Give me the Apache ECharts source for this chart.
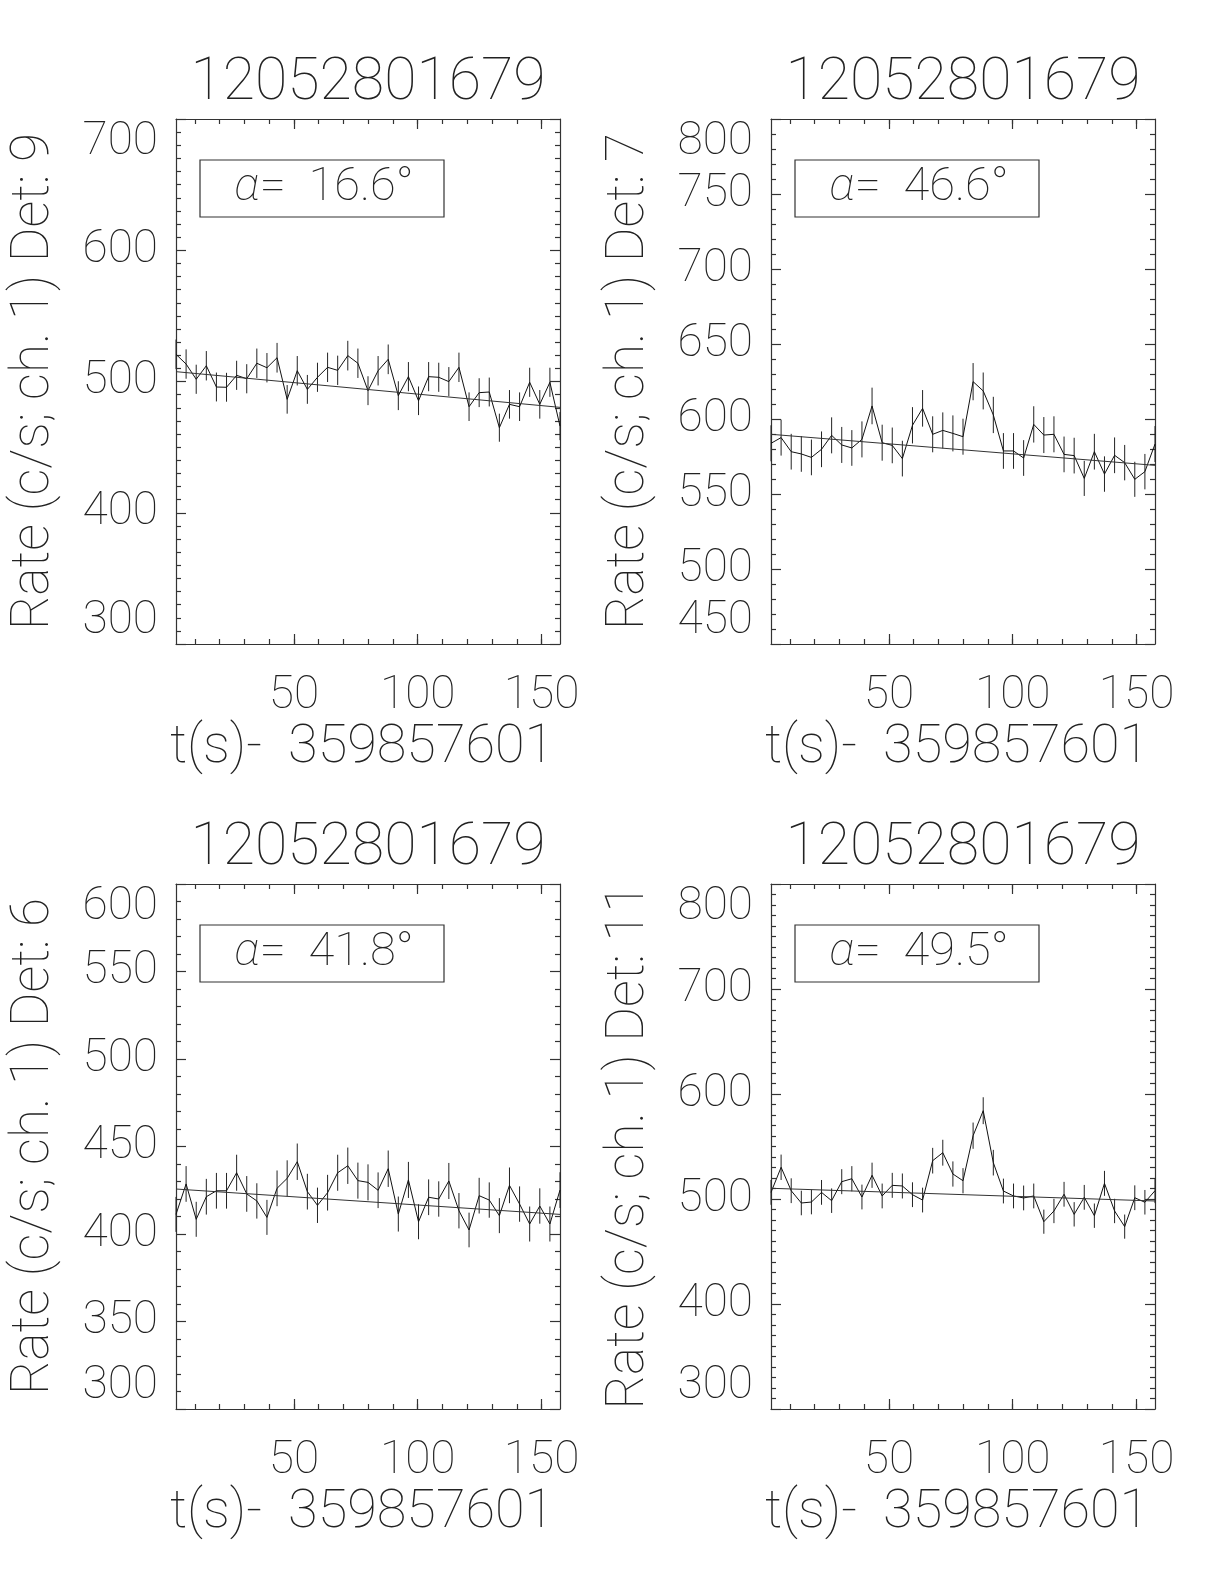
<!DOCTYPE html>
<html>
<head>
<meta charset="utf-8">
<script src="https://cdn.jsdelivr.net/npm/echarts@6/dist/echarts.min.js"></script>
<style>
  html, body { margin: 0; padding: 0; background: #ffffff; }
  #chart { width: 1224px; height: 1584px; }
</style>
</head>
<body>
<div id="chart"></div>
<script>
// ---------------- DATA ----------------
const titleText = '12052801679';
const xAxisName = 't(s)-  359857601';
const xMajorTicks = [50, 100, 150];
const xMinorTicks = [10, 20, 30, 40, 50, 60, 70, 80, 90, 100, 110, 120, 130, 140, 150];

// bin times (s) relative to 359857601
const times = [2.4, 6.48, 10.56, 14.64, 18.72, 22.8, 26.88, 30.96, 35.04, 39.12,
  43.2, 47.28, 51.36, 55.44, 59.52, 63.6, 67.68, 71.76, 75.84, 79.92,
  84.0, 88.08, 92.16, 96.24, 100.32, 104.4, 108.48, 112.56, 116.64, 120.72,
  124.8, 128.88, 132.96, 137.04, 141.12, 145.2, 149.28, 153.36, 157.44];

// Det 9
const rateDet9 = [520.7, 513.3, 501.7, 512.0, 495.8, 495.6, 504.7, 502.1, 513.9, 510.5,
  518.1, 486.4, 508.2, 494.0, 503.2, 510.8, 508.5, 519.7, 513.9, 493.0,
  508.2, 516.9, 489.2, 503.7, 485.3, 503.7, 503.2, 499.9, 510.8, 480.8,
  491.5, 492.0, 464.8, 482.6, 480.8, 499.4, 482.6, 499.4, 466.0];
const errDet9 = [11.3, 11.2, 11.1, 11.2, 11.0, 11.0, 11.1, 11.1, 11.2, 11.2,
  11.3, 10.9, 11.2, 11.0, 11.1, 11.2, 11.2, 11.3, 11.2, 11.0,
  11.2, 11.3, 11.0, 11.1, 10.9, 11.1, 11.1, 11.1, 11.2, 10.9,
  11.0, 11.0, 10.7, 10.9, 10.9, 11.1, 10.9, 11.1, 10.7];
const fitDet9 = [507.5, 480.3];

// Det 7
const rateDet7 = [583.8, 587.6, 578.2, 576.7, 574.4, 579.8, 589.1, 582.7, 580.7, 586.4,
  608.7, 584.2, 582.4, 573.6, 595.8, 607.1, 589.8, 592.4, 590.4, 588.2,
  624.9, 618.7, 602.7, 578.7, 578.7, 574.0, 596.4, 589.3, 589.8, 576.4,
  575.6, 560.4, 578.2, 563.3, 575.8, 570.9, 559.8, 564.9, 583.3];
const errDet7 = [12.0, 12.0, 11.9, 11.9, 11.9, 11.9, 12.0, 12.0, 11.9, 12.0,
  12.2, 12.0, 11.9, 11.9, 12.1, 12.2, 12.0, 12.0, 12.0, 12.0,
  12.4, 12.3, 12.1, 11.9, 11.9, 11.9, 12.1, 12.0, 12.0, 11.9,
  11.9, 11.7, 11.9, 11.8, 11.9, 11.8, 11.7, 11.8, 12.0];
const fitDet7 = [589.8, 569.1];

// Det 6
const rateDet6 = [411.2, 428.6, 408.4, 421.3, 424.7, 424.7, 435.0, 422.9, 418.9, 409.5,
  426.1, 431.8, 441.3, 424.2, 416.4, 423.6, 435.0, 439.0, 430.5, 429.5,
  425.0, 437.3, 411.4, 430.9, 407.0, 421.0, 420.0, 430.3, 413.3, 402.3,
  421.9, 419.4, 410.5, 427.8, 417.1, 405.7, 416.0, 405.7, 425.1];
const errDet6 = [10.0, 10.2, 10.0, 10.2, 10.2, 10.2, 10.3, 10.2, 10.1, 10.0,
  10.2, 10.3, 10.4, 10.2, 10.1, 10.2, 10.3, 10.4, 10.3, 10.3,
  10.2, 10.4, 10.0, 10.3, 10.0, 10.2, 10.1, 10.3, 10.1, 9.9,
  10.2, 10.1, 10.0, 10.2, 10.1, 10.0, 10.1, 10.0, 10.2];
const fitDet6 = [425.7, 411.2];

// Det 11
const rateDet11 = [506.3, 530.2, 507.9, 496.2, 497.1, 506.3, 498.4, 516.5, 519.3, 501.9,
  522.6, 502.9, 513.0, 512.4, 504.1, 499.0, 536.5, 544.1, 523.8, 517.4,
  560.3, 584.1, 534.6, 507.6, 502.9, 501.0, 502.9, 478.4, 488.6, 504.5,
  485.4, 501.6, 484.1, 514.9, 488.6, 473.7, 501.2, 496.9, 507.9];
const errDet11 = [11.8, 12.1, 11.8, 11.7, 11.7, 11.8, 11.7, 11.9, 12.0, 11.8,
  12.0, 11.8, 11.9, 11.9, 11.8, 11.8, 12.2, 12.3, 12.0, 12.0,
  12.5, 12.8, 12.2, 11.8, 11.8, 11.8, 11.8, 11.5, 11.6, 11.8,
  11.6, 11.8, 11.6, 11.9, 11.6, 11.5, 11.8, 11.7, 11.8];
const fitDet11 = [510.2, 498.1];

const detNames = ['9', '7', '6', '11'];
const alphaValues = ['16.6', '46.6', '41.8', '49.5'];
const yMins = [300, 450, 300, 300];
const yMaxs = [700, 800, 600, 800];
const yIntervals = [100, 50, 50, 100];
const yMinorSplits = [10, 5, 5, 10];
const rates = [rateDet9, rateDet7, rateDet6, rateDet11];
const errs = [errDet9, errDet7, errDet6, errDet11];
const fits = [fitDet9, fitDet7, fitDet6, fitDet11];

// ---------------- LAYOUT / STYLE ----------------
const GRIDS = [
  { left: 176, top: 119 },
  { left: 771, top: 119 },
  { left: 176, top: 884 },
  { left: 771, top: 884 }
];
const GW = 384, GH = 525;
const FONT = 'Roboto, "Liberation Sans", sans-serif';
const FW = 100;
const INK = '#222222';
const FRAME = '#333333';

const chart = echarts.init(document.getElementById('chart'), null, { renderer: 'canvas' });

const grid = [], xAxis = [], yAxis = [], series = [], graphic = [];
const tMin = times[0], tMax = times[times.length - 1];

GRIDS.forEach((g, i) => {
  grid.push({ left: g.left, top: g.top, width: GW, height: GH, containLabel: false });

  const lineStyle = { color: FRAME, width: 1.2 };
  const xBase = { gridIndex: i, type: 'value', min: tMin, max: tMax, splitLine: { show: false } };
  // bottom major
  xAxis.push(Object.assign({}, xBase, {
    position: 'bottom',
    axisLine: { show: true, onZero: false, lineStyle },
    axisTick: { show: true, inside: true, length: 10, customValues: xMajorTicks, lineStyle },
    axisLabel: { show: true, customValues: xMajorTicks, margin: 29, fontSize: 46, fontFamily: FONT, fontWeight: FW, color: INK }
  }));
  // bottom minor
  xAxis.push(Object.assign({}, xBase, {
    position: 'bottom',
    axisLine: { show: false },
    axisTick: { show: true, inside: true, length: 5, customValues: xMinorTicks, lineStyle },
    axisLabel: { show: false }
  }));
  // top major
  xAxis.push(Object.assign({}, xBase, {
    position: 'top',
    axisLine: { show: true, onZero: false, lineStyle },
    axisTick: { show: true, inside: true, length: 10, customValues: xMajorTicks, lineStyle },
    axisLabel: { show: false }
  }));
  // top minor
  xAxis.push(Object.assign({}, xBase, {
    position: 'top',
    axisLine: { show: false },
    axisTick: { show: true, inside: true, length: 5, customValues: xMinorTicks, lineStyle },
    axisLabel: { show: false }
  }));

  const yBase = {
    gridIndex: i, type: 'value', min: yMins[i], max: yMaxs[i], interval: yIntervals[i],
    splitLine: { show: false }, minorSplitLine: { show: false },
    axisLine: { show: true, onZero: false, lineStyle },
    axisTick: { show: true, inside: true, length: 10, lineStyle },
    minorTick: { show: true, splitNumber: yMinorSplits[i], length: 5, lineStyle }
  };
  yAxis.push(Object.assign({}, yBase, {
    position: 'left',
    axisLabel: {
      show: true, margin: 18, fontSize: 46, fontFamily: FONT, fontWeight: FW, color: INK,
      verticalAlignMaxLabel: 'top', verticalAlignMinLabel: 'bottom'
    }
  }));
  yAxis.push(Object.assign({}, yBase, {
    position: 'right',
    axisLabel: { show: false }
  }));

  const xi = i * 4, yi = i * 2;
  const rate = rates[i], err = errs[i], fit = fits[i];

  series.push({
    type: 'line', xAxisIndex: xi, yAxisIndex: yi,
    data: times.map((t, k) => [t, rate[k]]),
    symbol: 'none', silent: true, animation: false,
    lineStyle: { color: '#111111', width: 1 }
  });
  series.push({
    type: 'custom', xAxisIndex: xi, yAxisIndex: yi,
    data: times.map((t, k) => [t, rate[k] - err[k], rate[k] + err[k]]),
    encode: { x: 0, y: [1, 2] },
    silent: true, animation: false,
    renderItem: (params, api) => {
      const p1 = api.coord([api.value(0), api.value(1)]);
      const p2 = api.coord([api.value(0), api.value(2)]);
      return { type: 'line', shape: { x1: p1[0], y1: p1[1], x2: p2[0], y2: p2[1] },
        style: { stroke: '#222222', lineWidth: 1 } };
    }
  });
  series.push({
    type: 'line', xAxisIndex: xi, yAxisIndex: yi,
    data: [[tMin, fit[0]], [tMax, fit[1]]],
    symbol: 'none', silent: true, animation: false,
    lineStyle: { color: '#333333', width: 1 }
  });

  const cx = g.left + GW / 2;
  // title
  graphic.push({
    type: 'text', x: cx, y: g.top - 35, silent: true,
    style: { text: titleText, align: 'center', verticalAlign: 'middle',
      fontSize: 59, fontFamily: FONT, fontWeight: FW, fill: INK }
  });
  // x axis name
  graphic.push({
    type: 'text', x: cx - 6, y: g.top + GH + 104, silent: true,
    style: { text: xAxisName, align: 'center', verticalAlign: 'middle',
      fontSize: 54, fontFamily: FONT, fontWeight: FW, fill: INK }
  });
  // y axis name
  graphic.push({
    type: 'text', x: g.left - 141, y: g.top + GH / 2, rotation: Math.PI / 2, silent: true,
    style: { text: 'Rate (c/s; ch. 1) Det: ' + detNames[i], align: 'center', verticalAlign: 'middle',
      fontSize: 53, fontFamily: FONT, fontWeight: FW, fill: INK }
  });
  // alpha box
  graphic.push({
    type: 'rect', x: g.left + 24, y: g.top + 41, silent: true,
    shape: { x: 0, y: 0, width: 244, height: 57 },
    style: { fill: 'none', stroke: FRAME, lineWidth: 1.2 }
  });
  graphic.push({
    type: 'text', x: g.left + 24 + 124, y: g.top + 41 + 28, silent: true,
    style: {
      text: '{a|α}=  ' + alphaValues[i] + '°', align: 'center', verticalAlign: 'middle',
      fontSize: 47, fontFamily: FONT, fontWeight: FW, fill: INK,
      rich: { a: { fontSize: 47, fontFamily: FONT, fontWeight: FW, fontStyle: 'italic', fill: INK, color: INK } }
    }
  });
});

chart.setOption({
  backgroundColor: '#ffffff',
  animation: false,
  grid, xAxis, yAxis, series, graphic
});
</script>
</body>
</html>
